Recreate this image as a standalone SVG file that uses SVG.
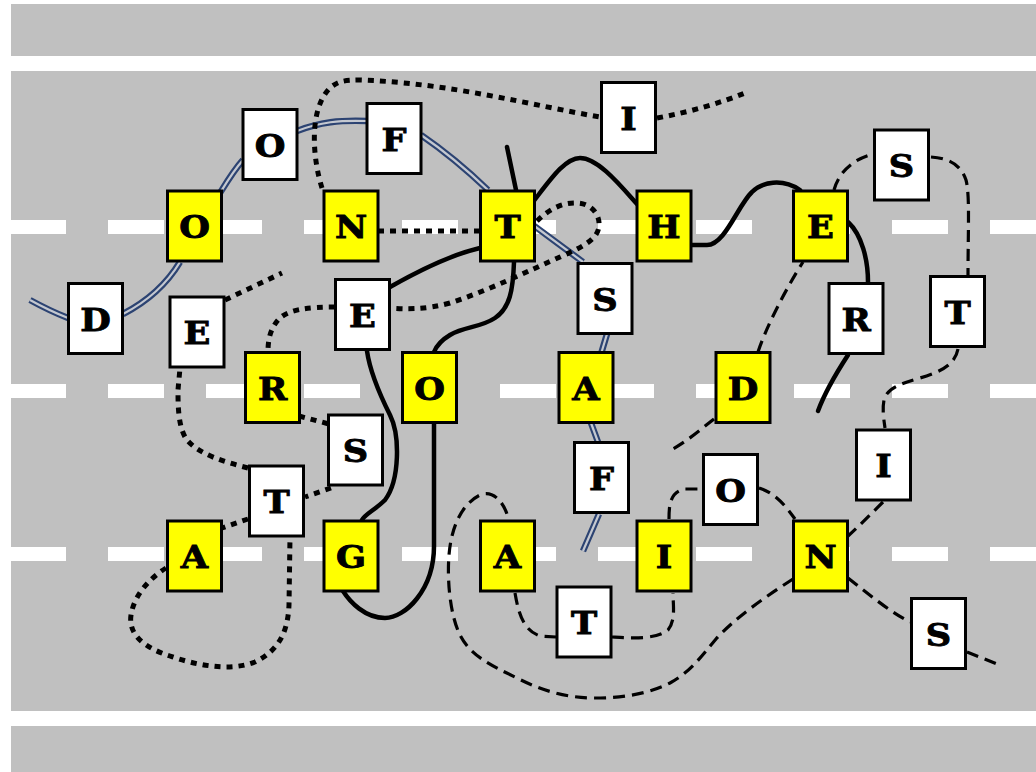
<svg xmlns="http://www.w3.org/2000/svg" width="1036" height="772" viewBox="0 0 1036 772">
<style>
.lane{stroke:#fff;stroke-width:14;stroke-dasharray:56 42;fill:none}
.solid{fill:none;stroke:#000;stroke-width:4.5;stroke-linecap:round}
.dot{fill:none;stroke:#000;stroke-width:5;stroke-dasharray:6 6}
.dash{fill:none;stroke:#000;stroke-width:3.2;stroke-dasharray:12 7}
.dbl-o{fill:none;stroke:#2c4372;stroke-width:6.5}
.dbl-i{fill:none;stroke:#c4c8d0;stroke-width:2.2}
.box rect{stroke:#000;stroke-width:3}
.y rect{fill:#ffff00}
.w rect{fill:#fff}
.box text{font-family:"DejaVu Serif",serif;font-weight:bold;font-size:32px;text-anchor:middle;fill:#000;stroke:#000;stroke-width:0.9;transform:scale(1.1,1)}
</style>
<defs>
<path id="d1" d="M30,300 Q50,311 68,318 M123,314 C150,300 168,282 180,262 M220,193 C228,180 234,170 243,160 M297,131 C320,122 340,120 367,121 M421,135 C440,148 465,168 488,190 M533,225 L583,262 M607,334 L601,354 M591,423 L598,442 M599,514 L583,551"/>
</defs>
<rect x="0" y="0" width="1036" height="772" fill="#fff"/>
<rect x="11" y="4" width="1025" height="768" fill="#c0c0c0"/>
<rect x="11" y="56" width="1025" height="15" fill="#fff"/>
<rect x="11" y="711" width="1025" height="15" fill="#fff"/>
<line class="lane" x1="10" y1="227" x2="1036" y2="227"/>
<line class="lane" x1="10" y1="391" x2="1036" y2="391"/>
<line class="lane" x1="10" y1="554" x2="1036" y2="554"/>

<g id="connectors">
<use href="#d1" class="dbl-o"/>
<use href="#d1" class="dbl-i"/>

<path class="solid" d="M507,147 L516,190"/>
<path class="solid" d="M533,202 C550,180 565,158 580,158 C598,158 620,185 637,204"/>
<path class="solid" d="M692,245 L707,245 C725,245 738,205 752,192 C762,182 782,178 800,190"/>
<path class="solid" d="M848,222 C862,235 868,260 868,282"/>
<path class="solid" d="M848,355 C835,375 825,392 818,411"/>
<path class="solid" d="M390,287 C420,270 450,255 480,248"/>
<path class="solid" d="M514,262 C513,290 510,308 495,318 C480,328 465,326 450,335 C440,341 436,347 434,352"/>
<path class="solid" d="M434,423 L434,546 C434,590 405,618 385,618 C365,618 350,602 343,591"/>
<path class="solid" d="M367,351 C370,372 380,395 390,415 C400,435 400,480 385,500 C375,510 365,514 362,520"/>

<path class="dot" d="M322,188 C313,160 308,110 330,88 C338,81 345,80 360,80 C450,83 530,105 600,117"/>
<path class="dot" d="M657,118 C690,112 720,103 745,93"/>
<path class="dot" d="M378,231 L480,231"/>
<path class="dot" d="M537,221 C548,210 562,202 578,203 C592,204 600,215 599,226 C598,240 580,248 560,257 C530,270 490,290 450,303 C425,310 405,309 390,308"/>
<path class="dot" d="M335,307 C310,307 290,309 280,318 C270,328 268,340 268,352"/>
<path class="dot" d="M299,416 L329,424"/>
<path class="dot" d="M331,488 L305,497"/>
<path class="dot" d="M248,519 L222,528"/>
<path class="dot" d="M166,568 C150,578 134,595 131,615 C128,635 145,648 170,656 C195,665 230,672 255,662 C280,650 288,630 289,605 L290,537"/>
<path class="dot" d="M248,468 C225,462 200,455 187,440 C178,428 178,405 178,390 L180,368"/>
<path class="dot" d="M225,300 L282,273"/>

<path class="dash" d="M834,190 C838,175 850,160 873,154"/>
<path class="dash" d="M931,157 C945,158 960,162 966,180 C970,195 968,230 968,276"/>
<path class="dash" d="M958,349 C955,365 940,372 920,378 C900,384 887,388 884,400 C882,410 884,420 885,428"/>
<path class="dash" d="M883,502 C870,515 860,525 848,536"/>
<path class="dash" d="M848,578 C870,595 890,612 910,622"/>
<path class="dash" d="M967,652 L1002,666"/>
<path class="dash" d="M793,579 C765,597 735,618 716,639 C700,658 690,672 670,683 C645,695 620,698 595,698 C565,698 540,690 515,677 C490,665 470,655 460,635 C450,615 447,580 449,555 C451,530 460,505 480,495 C492,490 502,500 507,514"/>
<path class="dash" d="M515,593 C518,610 522,630 540,636 L556,637"/>
<path class="dash" d="M612,637 C630,638 655,640 668,630 C676,620 673,605 673,593"/>
<path class="dash" d="M669,519 C669,505 670,492 685,489 L702,489"/>
<path class="dash" d="M759,488 C775,493 785,505 795,519"/>
<path class="dash" d="M714,419 C700,430 685,443 669,451"/>
<path class="dash" d="M758,352 C765,330 785,290 803,262"/>
</g>

<g id="n-O1" class="box y" transform="translate(194.5,226)"><rect x="-27" y="-35" width="54" height="70"/><text y="12">O</text></g>
<g id="n-N1" class="box y" transform="translate(351,226)"><rect x="-27" y="-35" width="54" height="70"/><text y="12">N</text></g>
<g id="n-T1" class="box y" transform="translate(507.5,226)"><rect x="-27" y="-35" width="54" height="70"/><text y="12">T</text></g>
<g id="n-H1" class="box y" transform="translate(664,226)"><rect x="-27" y="-35" width="54" height="70"/><text y="12">H</text></g>
<g id="n-E1" class="box y" transform="translate(820.5,226)"><rect x="-27" y="-35" width="54" height="70"/><text y="12">E</text></g>
<g id="n-R2" class="box y" transform="translate(272.5,387.5)"><rect x="-27" y="-35" width="54" height="70"/><text y="12">R</text></g>
<g id="n-O2" class="box y" transform="translate(429.5,387.5)"><rect x="-27" y="-35" width="54" height="70"/><text y="12">O</text></g>
<g id="n-A2" class="box y" transform="translate(586,387.5)"><rect x="-27" y="-35" width="54" height="70"/><text y="12">A</text></g>
<g id="n-D2" class="box y" transform="translate(743,387.5)"><rect x="-27" y="-35" width="54" height="70"/><text y="12">D</text></g>
<g id="n-A3" class="box y" transform="translate(194.5,556)"><rect x="-27" y="-35" width="54" height="70"/><text y="12">A</text></g>
<g id="n-G3" class="box y" transform="translate(351,556)"><rect x="-27" y="-35" width="54" height="70"/><text y="12">G</text></g>
<g id="n-A3b" class="box y" transform="translate(507.5,556)"><rect x="-27" y="-35" width="54" height="70"/><text y="12">A</text></g>
<g id="n-I3" class="box y" transform="translate(664,556)"><rect x="-27" y="-35" width="54" height="70"/><text y="12">I</text></g>
<g id="n-N3" class="box y" transform="translate(820.5,556)"><rect x="-27" y="-35" width="54" height="70"/><text y="12">N</text></g>

<g id="w-O" class="box w" transform="translate(270,144.5)"><rect x="-27" y="-35" width="54" height="70"/><text y="12">O</text></g>
<g id="w-F" class="box w" transform="translate(394,138.5)"><rect x="-27" y="-35" width="54" height="70"/><text y="12">F</text></g>
<g id="w-I" class="box w" transform="translate(628.5,117.5)"><rect x="-27" y="-35" width="54" height="70"/><text y="12">I</text></g>
<g id="w-S1" class="box w" transform="translate(901.5,165)"><rect x="-27" y="-35" width="54" height="70"/><text y="12">S</text></g>
<g id="w-D" class="box w" transform="translate(95.5,318.5)"><rect x="-27" y="-35" width="54" height="70"/><text y="12">D</text></g>
<g id="w-E1" class="box w" transform="translate(197,332)"><rect x="-27" y="-35" width="54" height="70"/><text y="12">E</text></g>
<g id="w-E2" class="box w" transform="translate(362.5,314.5)"><rect x="-27" y="-35" width="54" height="70"/><text y="12">E</text></g>
<g id="w-S2" class="box w" transform="translate(605,298.5)"><rect x="-27" y="-35" width="54" height="70"/><text y="12">S</text></g>
<g id="w-R" class="box w" transform="translate(856,318.5)"><rect x="-27" y="-35" width="54" height="70"/><text y="12">R</text></g>
<g id="w-T1" class="box w" transform="translate(957.5,311.5)"><rect x="-27" y="-35" width="54" height="70"/><text y="12">T</text></g>
<g id="w-S3" class="box w" transform="translate(355.5,450)"><rect x="-27" y="-35" width="54" height="70"/><text y="12">S</text></g>
<g id="w-T2" class="box w" transform="translate(276.5,501)"><rect x="-27" y="-35" width="54" height="70"/><text y="12">T</text></g>
<g id="w-F2" class="box w" transform="translate(601.5,477.5)"><rect x="-27" y="-35" width="54" height="70"/><text y="12">F</text></g>
<g id="w-O2" class="box w" transform="translate(730.5,489.5)"><rect x="-27" y="-35" width="54" height="70"/><text y="12">O</text></g>
<g id="w-I2" class="box w" transform="translate(883.5,465)"><rect x="-27" y="-35" width="54" height="70"/><text y="12">I</text></g>
<g id="w-T3" class="box w" transform="translate(584,622)"><rect x="-27" y="-35" width="54" height="70"/><text y="12">T</text></g>
<g id="w-S4" class="box w" transform="translate(938.5,633.5)"><rect x="-27" y="-35" width="54" height="70"/><text y="12">S</text></g>
</svg>
